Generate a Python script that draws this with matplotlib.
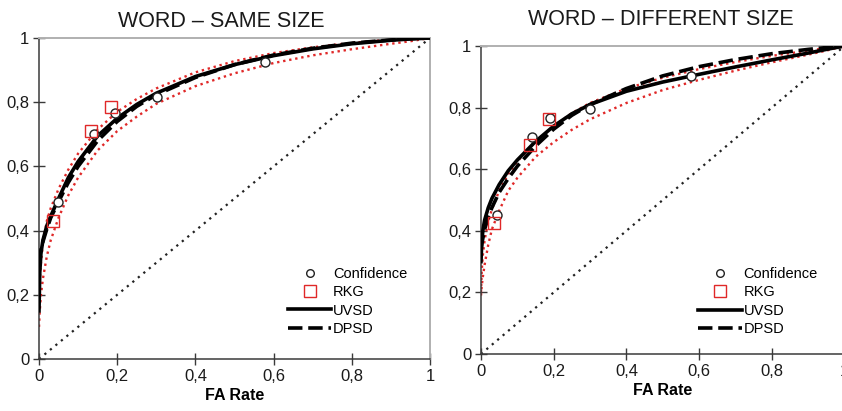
import matplotlib
matplotlib.use("Agg")
import matplotlib.pyplot as plt
from matplotlib.lines import Line2D

plt.rcParams['font.family'] = ['Liberation Sans', 'DejaVu Sans']

# ---------------- data ----------------
TITLES = ["WORD \u2013 SAME SIZE", "WORD \u2013 DIFFERENT SIZE"]
TICKS = [0, 0.2, 0.4, 0.6, 0.8, 1]
TICK_LABELS = ["0", "0,2", "0,4", "0,6", "0,8", "1"]
XLABEL = "FA Rate"

FA_GRID = [0, 0.002, 0.005, 0.01, 0.02, 0.03, 0.05, 0.075, 0.1, 0.15, 0.2,
           0.25, 0.3, 0.4, 0.5, 0.6, 0.7, 0.8, 0.9, 0.95, 1.0]

# Word - same size
same_conf_fa = [0.048, 0.141, 0.194, 0.302, 0.577]
same_conf_hit = [0.488, 0.700, 0.765, 0.817, 0.926]
same_rkg_fa = [0.037, 0.132, 0.185]
same_rkg_hit = [0.430, 0.710, 0.786]
same_uvsd = [0.15, 0.27, 0.33, 0.37, 0.415, 0.445, 0.50, 0.565, 0.615, 0.695, 0.75,
             0.793, 0.828, 0.88, 0.917, 0.945, 0.966, 0.982, 0.993, 0.997, 1.0]
same_dpsd = [0.30, 0.32, 0.34, 0.365, 0.405, 0.44, 0.49, 0.55, 0.60, 0.68, 0.74,
             0.787, 0.823, 0.877, 0.917, 0.947, 0.968, 0.984, 0.994, 0.998, 1.0]
same_red_upper = [0.20, 0.25, 0.30, 0.36, 0.43, 0.47, 0.53, 0.59, 0.64, 0.715, 0.77,
                  0.81, 0.843, 0.893, 0.928, 0.953, 0.971, 0.985, 0.995, 0.998, 1.0]
same_red_lower = [0.10, 0.15, 0.20, 0.25, 0.32, 0.37, 0.44, 0.51, 0.565, 0.65, 0.71,
                  0.755, 0.795, 0.85, 0.89, 0.922, 0.946, 0.965, 0.982, 0.99, 1.0]

# Word - different size
diff_conf_fa = [0.043, 0.141, 0.190, 0.300, 0.578]
diff_conf_hit = [0.451, 0.706, 0.765, 0.794, 0.902]
diff_rkg_fa = [0.036, 0.136, 0.188]
diff_rkg_hit = [0.426, 0.680, 0.762]
diff_uvsd = [0.30, 0.36, 0.40, 0.435, 0.475, 0.505, 0.55, 0.595, 0.63, 0.69, 0.74,
             0.78, 0.81, 0.853, 0.883, 0.908, 0.932, 0.955, 0.977, 0.989, 1.0]
diff_dpsd = [0.34, 0.355, 0.375, 0.405, 0.445, 0.475, 0.525, 0.57, 0.61, 0.675, 0.73,
             0.775, 0.81, 0.862, 0.903, 0.933, 0.956, 0.975, 0.989, 0.995, 1.0]
diff_red_upper = [0.20, 0.27, 0.32, 0.37, 0.43, 0.47, 0.53, 0.585, 0.625, 0.69, 0.74,
                  0.782, 0.815, 0.862, 0.897, 0.925, 0.948, 0.968, 0.985, 0.993, 1.0]
diff_red_lower = [0.19, 0.22, 0.25, 0.29, 0.355, 0.405, 0.465, 0.53, 0.572, 0.64, 0.688,
                  0.728, 0.762, 0.815, 0.857, 0.89, 0.92, 0.947, 0.972, 0.985, 1.0]

CHANCE = [0, 1]
LEGEND_LABELS = ["Confidence", "RKG", "UVSD", "DPSD"]

# ---------------- figure ----------------
W, H = 842, 411
fig = plt.figure(figsize=(W / 100, H / 100), dpi=100)

def rect(x0, x1, y_top, y_bot):
    return [x0 / W, 1 - y_bot / H, (x1 - x0) / W, (y_bot - y_top) / H]

ax1 = fig.add_axes(rect(39, 430, 38, 359))
ax2 = fig.add_axes(rect(481, 844.5, 46, 354))

RED = "#e02828"
DARK = "#3a3a3a"
LIGHT = "#b0b0b0"
DASH = (0, (4, 1.6))

panels = [
    (ax1, TITLES[0], same_conf_fa, same_conf_hit, same_rkg_fa, same_rkg_hit,
     same_uvsd, same_dpsd, same_red_upper, same_red_lower, 0.467, 8,
     (0.61, 0.04)),
    (ax2, TITLES[1], diff_conf_fa, diff_conf_hit, diff_rkg_fa, diff_rkg_hit,
     diff_uvsd, diff_dpsd, diff_red_upper, diff_red_lower, 0.495, 15,
     (0.57, 0.025)),
]

for (ax, title, cfa, chit, rfa, rhit, uv, dp, ru, rl, tx, tpad, lanchor) in panels:
    ax.plot(CHANCE, CHANCE, color="#222222", lw=1.6, linestyle=(0, (1, 2.2)),
            zorder=1)
    ax.plot(FA_GRID, ru, color=RED, lw=1.7, linestyle=(0, (1, 1.6)), zorder=2)
    ax.plot(FA_GRID, rl, color=RED, lw=1.7, linestyle=(0, (1, 1.6)), zorder=2)
    ax.plot(FA_GRID, dp, color="black", lw=2.6, linestyle=DASH, zorder=3)
    ax.plot(FA_GRID, uv, color="black", lw=2.6, zorder=3)
    ax.plot(cfa, chit, linestyle="none", marker="o", ms=6.5, mfc="white",
            mec="#222222", mew=1.0, zorder=5)
    ax.plot(rfa, rhit, linestyle="none", marker="s", ms=9, mfc="none",
            mec=RED, mew=1.0, zorder=6)

    ax.set_xlim(0, 1)
    ax.set_ylim(0, 1)
    ax.set_xticks(TICKS)
    ax.set_xticklabels(TICK_LABELS)
    ax.set_yticks(TICKS)
    ax.set_yticklabels(TICK_LABELS)
    ax.tick_params(direction="inout", length=8, width=1, color=DARK,
                   labelsize=12, pad=3, labelcolor="#1a1a1a")
    for s in ("left", "bottom"):
        ax.spines[s].set_color(DARK)
        ax.spines[s].set_linewidth(1.1)
    for s in ("top", "right"):
        ax.spines[s].set_color(LIGHT)
        ax.spines[s].set_linewidth(1.4)
    ax.set_xlabel(XLABEL, fontsize=11.5, fontweight="bold", labelpad=3)
    ax.set_title(title, fontsize=15.5, x=tx, pad=tpad, color="#1a1a1a")

    handles = [
        Line2D([], [], linestyle="none", marker="o", ms=5.5, mfc="white",
               mec="#222222", mew=1.0),
        Line2D([], [], linestyle="none", marker="s", ms=8, mfc="none",
               mec=RED, mew=1.0),
        Line2D([], [], color="black", lw=2.6),
        Line2D([], [], color="black", lw=2.6, linestyle=DASH),
    ]
    ax.legend(handles, LEGEND_LABELS, loc="lower left", bbox_to_anchor=lanchor,
              frameon=False, fontsize=10.5, handlelength=3.0,
              handletextpad=0.1, labelspacing=0.3, borderpad=0.2)
    for sp in ax.spines.values():
        sp.set_clip_on(False)

fig.savefig("out.png", dpi=100)
